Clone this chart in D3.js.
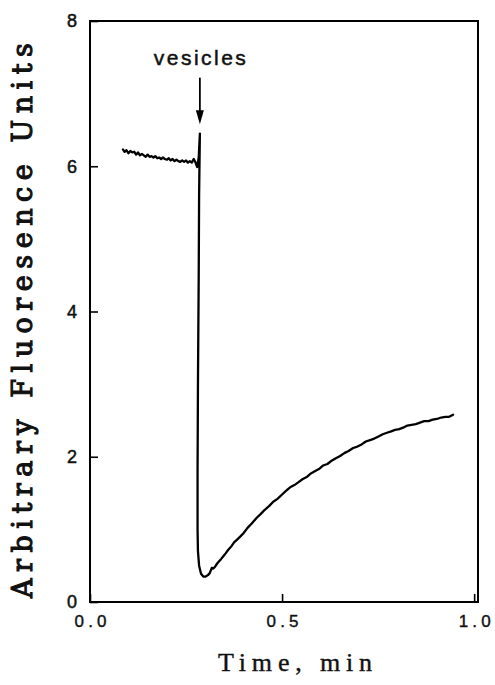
<!DOCTYPE html>
<html>
<head>
<meta charset="utf-8">
<script src="https://cdn.jsdelivr.net/npm/d3@7"></script>
<style>
  html, body { margin: 0; padding: 0; background: #fff; }
  svg { display: block; }
</style>
</head>
<body>
<script>
// Fluorescence trace: time (min) and signal (arbitrary units)
const timeMin = [
  0.086, 0.090, 0.095, 0.100, 0.105, 0.110, 0.115, 0.120, 0.125, 0.130,
  0.135, 0.140, 0.145, 0.150, 0.155, 0.160, 0.165, 0.170, 0.175, 0.180,
  0.185, 0.190, 0.195, 0.200, 0.205, 0.210, 0.215, 0.220, 0.225, 0.230,
  0.235, 0.240, 0.245, 0.250, 0.255, 0.260, 0.265, 0.270, 0.274, 0.279,
  0.283, 0.286,
  0.284, 0.283, 0.281, 0.280, 0.280, 0.281, 0.284, 0.289, 0.295, 0.301,
  0.307, 0.312, 0.317, 0.321, 0.326, 0.331, 0.336, 0.341, 0.347, 0.353,
  0.360, 0.367, 0.375, 0.383, 0.391, 0.400, 0.410, 0.421, 0.434, 0.444,
  0.455, 0.466, 0.477, 0.488, 0.500, 0.510, 0.521, 0.532, 0.543, 0.553,
  0.564, 0.575, 0.585, 0.596, 0.607, 0.618, 0.630, 0.640, 0.651, 0.662,
  0.673, 0.685, 0.696, 0.707, 0.718, 0.729, 0.740, 0.751, 0.762, 0.773,
  0.784, 0.794, 0.805, 0.815, 0.826, 0.837, 0.848, 0.859, 0.870, 0.881,
  0.892, 0.903, 0.914, 0.925, 0.935, 0.945
];
const signal = [
  6.23, 6.20, 6.22, 6.18, 6.21, 6.19, 6.20, 6.16, 6.19, 6.15,
  6.17, 6.15, 6.13, 6.16, 6.13, 6.14, 6.12, 6.14, 6.11, 6.12,
  6.10, 6.12, 6.10, 6.09, 6.11, 6.08, 6.10, 6.07, 6.09, 6.07,
  6.06, 6.08, 6.06, 6.08, 6.05, 6.07, 6.05, 6.10, 6.06, 5.99,
  6.12, 6.45,
  5.60, 4.50, 3.00, 1.80, 1.00, 0.70, 0.50, 0.39, 0.35, 0.35,
  0.37, 0.40, 0.47, 0.46, 0.49, 0.53, 0.56, 0.59, 0.63, 0.67,
  0.72, 0.76, 0.82, 0.86, 0.90, 0.95, 1.02, 1.08, 1.16, 1.21,
  1.27, 1.32, 1.38, 1.42, 1.48, 1.53, 1.58, 1.61, 1.65, 1.69,
  1.72, 1.77, 1.80, 1.83, 1.88, 1.90, 1.95, 1.98, 2.01, 2.05,
  2.08, 2.12, 2.14, 2.17, 2.21, 2.23, 2.25, 2.28, 2.31, 2.33,
  2.35, 2.37, 2.38, 2.40, 2.43, 2.44, 2.45, 2.47, 2.49, 2.49,
  2.51, 2.52, 2.54, 2.55, 2.55, 2.58
];

const xTicks = [0.0, 0.5, 1.0];
const yTicks = [0, 2, 4, 6, 8];
const xDomain = [0, 1.01];
const yDomain = [0, 8];

const additionTime = 0.286;      // vesicles added
const arrowFrom = 7.22, arrowTo = 6.58, noteLevel = 7.40;

const W = 495, H = 685;
const svg = d3.select("body").append("svg")
  .attr("width", W).attr("height", H)
  .style("background", "#fff");

const x = d3.scaleLinear().domain(xDomain).range([90, 478]);
const y = d3.scaleLinear().domain(yDomain).range([602, 21]);

const sansFont = "'Liberation Sans', Arial, Helvetica, sans-serif";
const ink = "#111";

// y axis (ticks pointing inward)
const yAxis = svg.append("g")
  .attr("transform", `translate(${x(0)},0)`)
  .call(d3.axisLeft(y).tickValues(yTicks).tickSizeInner(-8).tickSizeOuter(0).tickPadding(13)
    .tickFormat(d3.format("d")));
yAxis.select(".domain").remove();
yAxis.selectAll("line").attr("stroke", "#000").attr("stroke-width", 1.6);
yAxis.selectAll("text").attr("font-family", sansFont).attr("font-size", 18)
  .attr("fill", ink).attr("stroke", ink).attr("stroke-width", 0.5);

// x axis (ticks pointing inward)
const xAxis = svg.append("g")
  .attr("transform", `translate(0,${y(0)})`)
  .call(d3.axisBottom(x).tickValues(xTicks).tickSizeInner(-8).tickSizeOuter(0).tickPadding(20)
    .tickFormat(d3.format(".1f")));
xAxis.select(".domain").remove();
xAxis.selectAll("line").attr("stroke", "#000").attr("stroke-width", 1.6);
xAxis.selectAll("text").attr("font-family", sansFont).attr("font-size", 17)
  .attr("fill", ink).attr("stroke", ink).attr("stroke-width", 0.4)
  .attr("dy", "0.3em")
  .attr("textLength", 32).attr("lengthAdjust", "spacing");

// frame
svg.append("rect")
  .attr("x", x(xDomain[0])).attr("y", y(yDomain[1]))
  .attr("width", x(xDomain[1]) - x(xDomain[0]))
  .attr("height", y(yDomain[0]) - y(yDomain[1]))
  .attr("fill", "none").attr("stroke", "#000").attr("stroke-width", 2);

// trace
const pts = timeMin.map((t, i) => [t, signal[i]]);
svg.append("path")
  .datum(pts)
  .attr("fill", "none")
  .attr("stroke", "#000")
  .attr("stroke-width", 2.3)
  .attr("stroke-linejoin", "round")
  .attr("stroke-linecap", "round")
  .attr("d", d3.line().x(d => x(d[0])).y(d => y(d[1])));

// annotation: vesicle addition
const ax = x(additionTime);
svg.append("line")
  .attr("x1", ax).attr("x2", ax)
  .attr("y1", y(arrowFrom)).attr("y2", y(arrowTo) - 10)
  .attr("stroke", "#000").attr("stroke-width", 1.8);
svg.append("path")
  .attr("d", `M${ax - 4},${y(arrowTo) - 14} L${ax + 4},${y(arrowTo) - 14} L${ax},${y(arrowTo)} Z`)
  .attr("fill", "#000");
svg.append("text")
  .attr("x", ax).attr("y", y(noteLevel))
  .attr("text-anchor", "middle")
  .attr("font-family", sansFont).attr("font-size", 21)
  .attr("textLength", 92).attr("lengthAdjust", "spacing")
  .attr("fill", ink).attr("stroke", ink).attr("stroke-width", 0.5)
  .text("vesicles");

// axis titles
svg.append("text")
  .attr("transform", `translate(32,${(598 + 43) / 2}) rotate(-90)`)
  .attr("text-anchor", "middle")
  .attr("font-family", "'DejaVu Serif', 'Liberation Serif', serif")
  .attr("font-size", 27)
  .attr("textLength", 555).attr("lengthAdjust", "spacing")
  .attr("fill", ink).attr("stroke", ink).attr("stroke-width", 1.1)
  .text("Arbitrary Fluoresence Units");

svg.append("text")
  .attr("x", 295).attr("y", 671)
  .attr("text-anchor", "middle")
  .attr("font-family", "'Liberation Serif', 'Times New Roman', serif")
  .attr("font-size", 26)
  .attr("textLength", 154).attr("lengthAdjust", "spacing")
  .attr("fill", ink).attr("stroke", ink).attr("stroke-width", 0.4)
  .text("Time, min");
</script>
</body>
</html>
